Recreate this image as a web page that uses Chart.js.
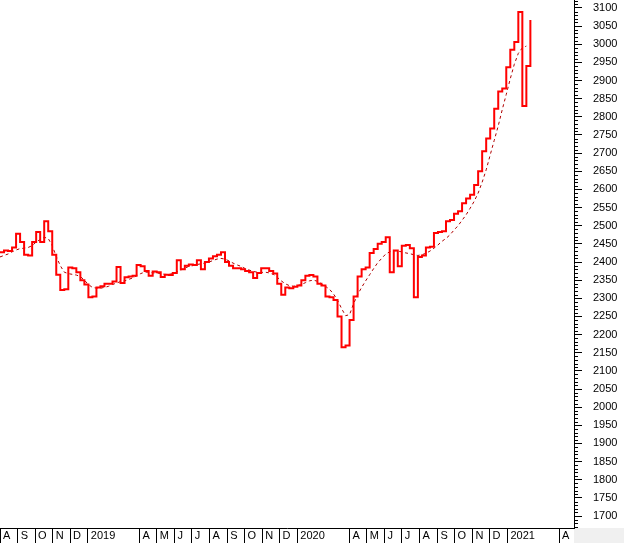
<!DOCTYPE html>
<html>
<head>
<meta charset="utf-8">
<script src="https://cdn.jsdelivr.net/npm/chart.js@4.4.1/dist/chart.umd.min.js"></script>
<style>
html, body { margin: 0; padding: 0; background: #fff; }
canvas { display: block; }
</style>
</head>
<body>
<canvas id="canvas" width="624" height="543"></canvas>
<script>
// weekly closes, first one on startDate
var startDate = "2018-08-01"
var daysPerStep = 7

var closeValues = [2427, 2432, 2430, 2440, 2478, 2455, 2420, 2418, 2455, 2483,
    2455, 2512, 2485, 2420, 2365, 2323, 2325, 2385, 2383, 2372,
    2350, 2338, 2303, 2305, 2330, 2333, 2340, 2340, 2346, 2386,
    2342, 2358, 2360, 2362, 2392, 2388, 2375, 2362, 2374, 2372,
    2359, 2365, 2364, 2370, 2405, 2380, 2390, 2393, 2392, 2405,
    2380, 2400, 2410, 2416, 2420, 2427, 2400, 2390, 2383, 2383,
    2380, 2375, 2372, 2356, 2370, 2383, 2383, 2375, 2368, 2340,
    2310, 2330, 2328, 2332, 2335, 2350, 2362, 2364, 2360, 2340,
    2335, 2305, 2303, 2295, 2250, 2165, 2170, 2240, 2305, 2360,
    2380, 2385, 2425, 2436, 2450, 2455, 2468, 2372, 2432, 2388,
    2445, 2447, 2438, 2303, 2414, 2418, 2440, 2442, 2480, 2483,
    2485, 2512, 2516, 2533, 2540, 2562, 2575, 2585, 2612, 2650,
    2705, 2740, 2768, 2822, 2870, 2878, 2937, 2985, 3006, 3089,
    2830, 2940, 3067]

// moving average (dotted line)
var avgValues = [2414, 2418, 2422, 2428, 2433, 2437, 2438, 2440, 2445, 2455,
    2462, 2468, 2465, 2445, 2415, 2390, 2372, 2368, 2366, 2364,
    2360, 2350, 2338, 2330, 2328, 2328, 2330, 2333, 2338, 2342,
    2346, 2348, 2352, 2356, 2362, 2368, 2372, 2372, 2370, 2370,
    2368, 2366, 2366, 2368, 2372, 2378, 2383, 2388, 2390, 2393,
    2395, 2397, 2400, 2404, 2408, 2410, 2408, 2403, 2397, 2392,
    2388, 2382, 2378, 2374, 2372, 2371, 2372, 2370, 2366, 2358,
    2348, 2340, 2335, 2333, 2335, 2338, 2343, 2348, 2350, 2347,
    2340, 2333, 2325, 2312, 2295, 2272, 2252, 2255, 2285, 2310,
    2330, 2348, 2365, 2382, 2398, 2410, 2422, 2428, 2432, 2430,
    2428, 2425, 2423, 2420, 2418, 2420, 2424, 2430, 2438, 2447,
    2457, 2465, 2475, 2488, 2500, 2515, 2530, 2548, 2567, 2590,
    2620, 2654, 2695, 2735, 2775, 2820, 2862, 2905, 2945, 2975,
    2990, 2995]

var monthDates = ["2018-08-01", "2018-09-01", "2018-10-01", "2018-11-01", "2018-12-01",
    "2019-01-01", "2019-04-01", "2019-05-01", "2019-06-01", "2019-07-01", "2019-08-01",
    "2019-09-01", "2019-10-01", "2019-11-01", "2019-12-01",
    "2020-01-01", "2020-04-01", "2020-05-01", "2020-06-01", "2020-07-01", "2020-08-01",
    "2020-09-01", "2020-10-01", "2020-11-01", "2020-12-01",
    "2021-01-01", "2021-04-01"]
var monthLabels = ["A", "S", "O", "N", "D", "2019", "A", "M", "J", "J", "A", "S", "O", "N", "D",
    "2020", "A", "M", "J", "J", "A", "S", "O", "N", "D", "2021", "A"]

var yMin = 1667
var yMax = 3122
var xMaxDays = 1000

function dayOf(s) {
    return (Date.parse(s) - Date.parse(startDate)) / 86400000
}

var closePoints = closeValues.map(function (v, i) { return {x: i * daysPerStep, y: v} })
var avgPoints = avgValues.map(function (v, i) { return {x: i * daysPerStep, y: v} })
var monthDays = monthDates.map(dayOf)

var axisFont = {family: "'Liberation Sans', Arial, sans-serif", size: 11}

function noPadding(s) {
    s.paddingTop = 0
    s.paddingBottom = 0
    s.paddingLeft = 0
    s.paddingRight = 0
}

var extras = {
    id: "extras",
    beforeDraw: function (c) {
        var ctx = c.ctx, a = c.chartArea
        ctx.save()
        ctx.fillStyle = "#fff"
        ctx.fillRect(0, 0, c.width, c.height)
        ctx.fillStyle = "#f0f0f0"
        ctx.fillRect(a.right, a.bottom, c.width - a.right, c.height - a.bottom)
        ctx.restore()
    },
    afterDraw: function (c) {
        // short ticks every 10 points
        var s = c.scales.y, ctx = c.ctx
        ctx.save()
        ctx.strokeStyle = "#000"
        ctx.lineWidth = 1
        ctx.beginPath()
        for (var v = Math.ceil(s.min / 10) * 10; v <= s.max; v += 10) {
            if (v % 50 === 0) continue
            var y = Math.round(s.getPixelForValue(v)) + 0.5
            ctx.moveTo(s.left, y)
            ctx.lineTo(s.left + 4, y)
        }
        ctx.stroke()
        ctx.restore()
    }
}

var chart = new Chart("canvas", {
    type: "line",
    data: {
        datasets: [{
            data: closePoints,
            borderColor: "#ff0000",
            borderWidth: 2,
            stepped: true,
            pointRadius: 0,
            fill: false
        }, {
            data: avgPoints,
            borderColor: "#b00000",
            borderWidth: 1,
            borderDash: [3, 3],
            pointRadius: 0,
            fill: false
        }]
    },
    options: {
        responsive: false,
        animation: false,
        layout: {padding: 0},
        plugins: {
            legend: {display: false},
            tooltip: {enabled: false}
        },
        scales: {
            x: {
                type: "linear",
                position: "bottom",
                min: 0,
                max: xMaxDays,
                afterBuildTicks: function (s) {
                    s.ticks = monthDays.map(function (d) { return {value: d} })
                },
                afterFit: function (s) {
                    s.height = 15
                    noPadding(s)
                },
                grid: {drawOnChartArea: false, tickLength: 15, color: "#000", lineWidth: 1},
                border: {color: "#000", width: 1},
                ticks: {
                    autoSkip: false,
                    maxRotation: 0,
                    align: "start",
                    labelOffset: 3,
                    padding: -14,
                    color: "#000",
                    font: axisFont,
                    callback: function (v) {
                        var k = monthDays.indexOf(v)
                        return k < 0 ? "" : monthLabels[k]
                    }
                }
            },
            y: {
                position: "right",
                min: yMin,
                max: yMax,
                afterFit: function (s) {
                    s.width = 50
                    noPadding(s)
                },
                grid: {drawOnChartArea: false, tickLength: 8, color: "#000"},
                border: {color: "#000", width: 1},
                ticks: {
                    stepSize: 50,
                    includeBounds: false,
                    autoSkip: false,
                    maxTicksLimit: 100,
                    padding: 11,
                    color: "#000",
                    font: axisFont,
                    callback: function (v) { return String(v) }
                }
            }
        }
    },
    plugins: [extras]
});
</script>
</body>
</html>
